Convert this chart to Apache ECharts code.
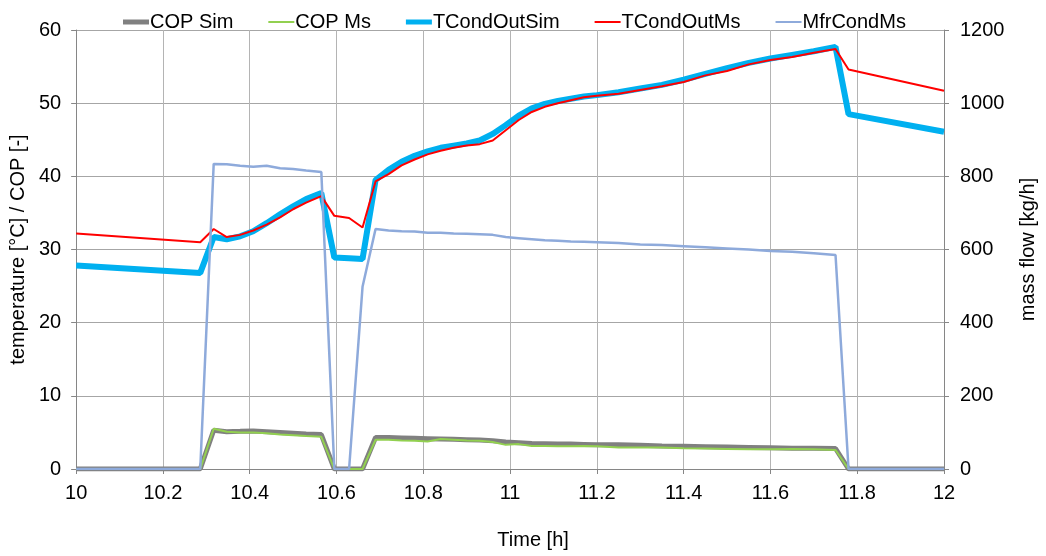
<!DOCTYPE html>
<html>
<head>
<meta charset="utf-8">
<script src="https://cdn.jsdelivr.net/npm/echarts@6/dist/echarts.min.js"></script>
<style>html,body{margin:0;padding:0;background:#fff;}#c{width:1046px;height:556px;}</style>
</head>
<body>
<div id="c"></div>
<script>
var time = [10.0, 10.286, 10.317, 10.347, 10.378, 10.408, 10.439, 10.47, 10.5, 10.53, 10.565, 10.595, 10.629, 10.66, 10.69, 10.72, 10.75, 10.78, 10.81, 10.84, 10.87, 10.9, 10.93, 10.96, 10.99, 11.02, 11.05, 11.08, 11.11, 11.14, 11.17, 11.2, 11.25, 11.3, 11.35, 11.4, 11.45, 11.5, 11.55, 11.6, 11.65, 11.7, 11.75, 11.78, 12.0];
var copSim = [0, 0, 5.3, 5.1, 5.15, 5.2, 5.1, 5.0, 4.9, 4.8, 4.7, 0, 0, 0, 4.3, 4.3, 4.25, 4.2, 4.15, 4.1, 4.05, 4.0, 3.95, 3.85, 3.7, 3.6, 3.5, 3.45, 3.4, 3.4, 3.35, 3.3, 3.3, 3.25, 3.15, 3.1, 3.05, 3.0, 2.95, 2.9, 2.85, 2.85, 2.8, 0, 0];
var copMs = [0, 0, 5.5, 5.1, 5.0, 5.0, 4.9, 4.7, 4.6, 4.5, 4.4, 0, 0, 0, 4.0, 4.0, 3.9, 3.85, 3.75, 4.1, 4.0, 3.9, 3.85, 3.7, 3.3, 3.4, 3.15, 3.15, 3.1, 3.1, 3.15, 3.1, 2.95, 2.95, 2.95, 2.85, 2.8, 2.75, 2.7, 2.7, 2.75, 2.7, 2.6, 0, 0];
var tCondOutSim = [27.8, 26.8, 31.7, 31.4, 31.8, 32.5, 33.6, 34.8, 35.9, 36.9, 37.7, 28.9, 28.8, 28.7, 39.5, 40.9, 42.0, 42.8, 43.4, 43.9, 44.2, 44.5, 44.9, 45.8, 47.0, 48.3, 49.3, 49.9, 50.3, 50.6, 50.9, 51.1, 51.5, 52.0, 52.5, 53.2, 54.0, 54.8, 55.5, 56.1, 56.6, 57.1, 57.7, 48.5, 46.1];
var tCondOutMs = [32.2, 31.0, 32.8, 31.7, 32.0, 32.6, 33.4, 34.4, 35.5, 36.4, 37.3, 34.6, 34.3, 33.0, 39.3, 40.3, 41.5, 42.3, 43.0, 43.5, 43.9, 44.2, 44.4, 44.9, 46.3, 47.7, 48.8, 49.5, 50.0, 50.4, 50.8, 51.0, 51.3, 51.8, 52.3, 52.9, 53.8, 54.4, 55.3, 55.9, 56.3, 56.9, 57.4, 54.6, 51.7];
var mfrCondMs = [0, 0, 834, 833, 829, 826, 829, 822, 820, 816, 812, 0, 0, 498, 656, 652, 650, 649, 646, 646, 644, 643, 642, 640, 634, 631, 628, 625, 624, 622, 621, 620, 618, 614, 612, 609, 606, 603, 600, 596, 594, 590, 585, 0, 0];
var seriesNames = ['COP Sim', 'COP Ms', 'TCondOutSim', 'TCondOutMs', 'MfrCondMs'];

function pairs(vals) { return time.map(function (t, i) { return [t, vals[i]]; }); }

var FONT = '"Liberation Sans", Arial, sans-serif';
var thickIcon = 'path://M0,0 M26,14 M0,4.5 L26,4.5 L26,9.5 L0,9.5 Z';
var thinIcon = 'path://M0,0 M26,14 M0,6 L26,6 L26,8 L0,8 Z';
var chart = echarts.init(document.getElementById('c'), null, {renderer: 'canvas'});
var axisLine = {show: true, lineStyle: {color: '#868686', width: 1}};
var tick = {show: true, length: 5, lineStyle: {color: '#868686'}};
var lbl = {color: '#000', fontFamily: FONT, fontSize: 20};
chart.setOption({
  animation: false,
  backgroundColor: '#fff',
  textStyle: {fontFamily: FONT},
  legend: {
    top: 7, left: 118, itemGap: 35, itemWidth: 26, itemHeight: 14,
    textStyle: {color: '#000', fontFamily: FONT, fontSize: 20, padding: [0, 0, 0, -4]},
    data: [
      {name: seriesNames[0], icon: thickIcon},
      {name: seriesNames[1], icon: thinIcon},
      {name: seriesNames[2], icon: thickIcon},
      {name: seriesNames[3], icon: thinIcon},
      {name: seriesNames[4], icon: thinIcon}
    ]
  },
  grid: {left: 75, right: 98, top: 30, bottom: 87, containLabel: false},
  xAxis: {
    type: 'value', min: 10, max: 12, interval: 0.2,
    name: 'Time [h]', nameLocation: 'middle', nameGap: 61,
    nameTextStyle: {color: '#000', fontFamily: FONT, fontSize: 20, padding: [0, 0, 0, 46]},
    axisLine: axisLine, axisTick: tick,
    axisLabel: Object.assign({margin: 14, formatter: function (v) { return String(Math.round(v * 10) / 10); }}, lbl),
    splitLine: {show: true, lineStyle: {color: '#b4b4b4', width: 1}}
  },
  yAxis: [{
    type: 'value', min: 0, max: 60, interval: 10, position: 'left',
    name: 'temperature [°C] / COP [-]', nameLocation: 'middle', nameGap: 43,
    nameTextStyle: {color: '#000', fontFamily: FONT, fontSize: 20},
    axisLine: axisLine, axisTick: tick,
    axisLabel: Object.assign({margin: 15, formatter: function (v) { return String(v); }}, lbl),
    splitLine: {show: true, lineStyle: {color: '#a6a6a6', width: 1}}
  }, {
    type: 'value', min: 0, max: 1200, interval: 200, position: 'right',
    name: 'mass flow [kg/h]', nameLocation: 'middle', nameGap: 74,
    nameTextStyle: {color: '#000', fontFamily: FONT, fontSize: 20},
    axisLine: axisLine, axisTick: tick,
    axisLabel: Object.assign({margin: 16, formatter: function (v) { return String(v); }}, lbl),
    splitLine: {show: false}
  }],
  series: [
    {name: 'COP Sim', type: 'line', yAxisIndex: 0, data: pairs(copSim), symbol: 'none', lineStyle: {color: '#808080', width: 5}, itemStyle: {color: '#808080'}},
    {name: 'COP Ms', type: 'line', yAxisIndex: 0, data: pairs(copMs), symbol: 'none', lineStyle: {color: '#92d050', width: 2}, itemStyle: {color: '#92d050'}},
    {name: 'TCondOutSim', type: 'line', yAxisIndex: 0, data: pairs(tCondOutSim), symbol: 'none', lineStyle: {color: '#00b0f0', width: 6}, itemStyle: {color: '#00b0f0'}},
    {name: 'TCondOutMs', type: 'line', yAxisIndex: 0, data: pairs(tCondOutMs), symbol: 'none', lineStyle: {color: '#ff0000', width: 2}, itemStyle: {color: '#ff0000'}},
    {name: 'MfrCondMs', type: 'line', yAxisIndex: 1, data: pairs(mfrCondMs), symbol: 'none', lineStyle: {color: '#8eaadb', width: 2.5}, itemStyle: {color: '#8eaadb'}}
  ]
});
</script>
</body>
</html>
